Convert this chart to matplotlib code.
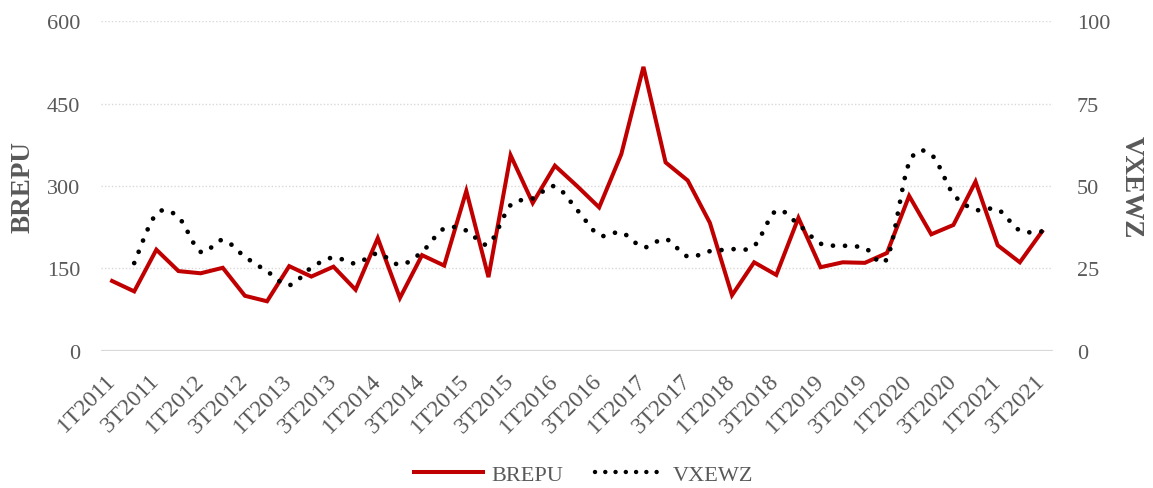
import matplotlib
matplotlib.use('Agg')
import matplotlib.pyplot as plt
from matplotlib.lines import Line2D
import numpy as np

plt.rcParams.update({
    'font.family': ['Liberation Serif', 'DejaVu Serif'],
    'font.size': 16,
})

# quarterly labels 1T2011 .. 3T2021
quarters = [f'{q}T{y}' for y in range(2011, 2022) for q in (1, 2, 3, 4)][:43]

brepu = [127, 108, 184, 145, 141, 151, 100, 90, 154, 135, 153, 111, 205, 96,
         174, 155, 291, 134, 356, 269, 337, 300, 261, 358, 517, 343, 310, 233,
         101, 161, 138, 242, 152, 161, 160, 178, 282, 212, 229, 308, 192, 161, 217]

# VXEWZ starts in 2T2011
vxewz = [None, 26.6, 41.5, 40.5, 30.0, 33.6, 28.5, 24.1, 19.9, 25.2, 28.3, 26.5,
         29.5, 26.1, 30.0, 37.1, 36.5, 32.4, 44.2, 46.2, 49.9, 42.8, 35.1, 35.9,
         31.4, 33.9, 28.6, 30.2, 30.8, 31.8, 42.5, 38.3, 32.5, 31.9, 31.2, 28.0,
         57.0, 59.5, 47.5, 42.8, 42.9, 36.5, 36.2]

RED = '#C00000'
GREY = '#595959'


def smooth(xs, ys, n=20):
    # Excel-style smoothed line (Catmull-Rom bezier)
    xs = np.asarray(xs, float)
    ys = np.asarray(ys, float)
    px = np.concatenate([[xs[0]], xs, [xs[-1]]])
    py = np.concatenate([[ys[0]], ys, [ys[-1]]])
    t = np.linspace(0, 1, n, endpoint=False)
    outx, outy = [], []
    for i in range(1, len(px) - 2):
        p0, p1, p2, p3 = (np.array([px[j], py[j]]) for j in (i - 1, i, i + 1, i + 2))
        c1 = p1 + (p2 - p0) / 6
        c2 = p2 - (p3 - p1) / 6
        b = ((1 - t) ** 3)[:, None] * p1 + (3 * (1 - t) ** 2 * t)[:, None] * c1 \
            + (3 * (1 - t) * t ** 2)[:, None] * c2 + (t ** 3)[:, None] * p2
        outx.extend(b[:, 0])
        outy.extend(b[:, 1])
    outx.append(xs[-1])
    outy.append(ys[-1])
    return np.array(outx), np.array(outy)


fig = plt.figure(figsize=(11.53, 4.89), dpi=100)
ax1 = fig.add_axes([0.0876, 0.2808, 0.9133 - 0.0876, 0.9544 - 0.2808])
ax2 = ax1.twinx()

x = np.arange(len(quarters))

ax1.plot(x, brepu, color=RED, linewidth=2.9, solid_joinstyle='miter', zorder=3)

vx_idx = [i for i, v in enumerate(vxewz) if v is not None]
vx_val = [vxewz[i] for i in vx_idx]
sx, sy = smooth(vx_idx, vx_val)
ax2.plot(sx, sy, color='black', linewidth=3.4, linestyle=(0, (0.01, 2.55)),
         dash_capstyle='round', zorder=4)

ax1.set_xlim(-0.5, len(quarters) - 0.5)
ax1.set_ylim(0, 600)
ax2.set_ylim(0, 100)
ax1.set_yticks([0, 150, 300, 450, 600])
ax2.set_yticks([0, 25, 50, 75, 100])

ax1.grid(True, axis='y', color='#D9D9D9', linestyle=(0, (1, 1.5)), linewidth=1.0)
ax1.set_axisbelow(True)
for ax in (ax1, ax2):
    for s in ax.spines.values():
        s.set_visible(False)
ax1.axhline(0, color='#D9D9D9', linewidth=1.6, zorder=1)

ax1.set_xticks(x[::2])
ax1.set_xticklabels(quarters[::2], rotation=45, ha='right', va='center',
                    rotation_mode='anchor')
ax1.tick_params(axis='x', length=0, pad=19, labelcolor=GREY, labelsize=17)
ax1.tick_params(axis='y', length=0, pad=15, labelcolor=GREY, labelsize=16)
ax2.tick_params(axis='y', length=0, pad=17, labelcolor=GREY, labelsize=16)

ax1.set_ylabel('BREPU', fontsize=19.5, fontweight='bold', color=GREY, labelpad=8)
ax2.set_ylabel('VXEWZ', fontsize=19.5, fontweight='bold', color=GREY,
               rotation=-90, va='bottom', labelpad=6)

handles = [Line2D([], [], color=RED, linewidth=2.9),
           Line2D([], [], color='black', linewidth=3.2, linestyle=(0, (0.01, 2.3)),
                  dash_capstyle='round')]
fig.legend(handles, ['BREPU', 'VXEWZ'], loc='center', bbox_to_anchor=(0.506, 0.027),
           ncol=2, frameon=False, fontsize=16, handlelength=3.1, handletextpad=0.4,
           columnspacing=1.4, labelcolor=GREY)

fig.savefig('out.png', dpi=100)
